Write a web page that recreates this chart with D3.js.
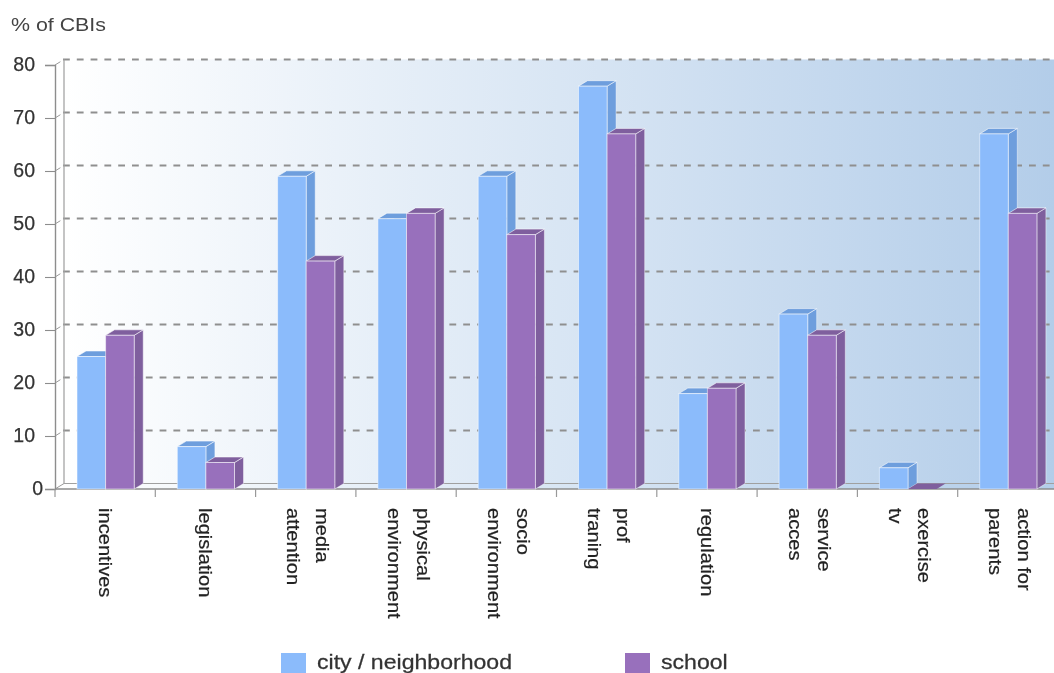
<!DOCTYPE html>
<html><head><meta charset="utf-8">
<script src="https://cdn.jsdelivr.net/npm/d3@7"></script>
<style>html,body{margin:0;padding:0;background:#fff;overflow:hidden}svg{display:block;filter:blur(.6px)}text{font-family:"Liberation Sans",Arial,sans-serif}</style>
</head><body><svg id="c" width="1054" height="673"></svg>
<script>
const categories=[["incentives"],["legislation"],["media","attention"],["physical","environment"],["socio","environment"],["prof","traning"],["regulation"],["service","acces"],["exercise","tv"],["action for","parents"]];
const cityValues=[25,8,59,51,59,76,18,33,4,67];
const schoolValues=[29,5,43,52,48,67,19,29,0,52];
const yTicks=[0,10,20,30,40,50,60,70,80];
const seriesNames=["city / neighborhood","school"];

const W=1054,H=673,dx=9,dy=5.5;
const svg=d3.select("#c");
const x=d3.scaleBand().domain(d3.range(categories.length)).range([55,1058]);
const y=d3.scaleLinear().domain([0,80]).range([489,65]);
const bw=28.6,pad=22;

const defs=svg.append("defs");
const g=defs.append("linearGradient").attr("id","wall");
g.append("stop").attr("offset","0").attr("stop-color","#ffffff");
g.append("stop").attr("offset","1").attr("stop-color","#b3cde9");

svg.append("rect").attr("x",55+dx).attr("y",y(80)-dy).attr("width",W-55-dx).attr("height",y(0)-y(80)).attr("fill","url(#wall)");
svg.append("path").attr("d",`M55,${y(0)}L${55+dx},${y(0)-dy}H${W}V${y(0)}Z`).attr("fill","url(#wall)");

svg.append("g").selectAll("line").data(yTicks.filter(d=>d>0)).join("line")
 .attr("x1",63).attr("x2",W).attr("y1",d=>y(d)-dy).attr("y2",d=>y(d)-dy)
 .attr("stroke","#8f8f8f").attr("stroke-width",1.9).attr("stroke-dasharray","6.8 7");
svg.append("line").attr("x1",55+dx).attr("x2",W).attr("y1",y(0)-dy).attr("y2",y(0)-dy).attr("stroke","#a0a0a0").attr("stroke-width",1.2);
svg.append("line").attr("x1",55+dx).attr("x2",55+dx).attr("y1",y(80)-dy).attr("y2",y(0)-dy).attr("stroke","#a5a5a5").attr("stroke-width",1.3);
svg.append("g").selectAll("line").data(yTicks).join("line")
 .attr("x1",55).attr("x2",d=>d===0?55+dx:55+dx*.6).attr("y1",d=>y(d)).attr("y2",d=>d===0?y(d)-dy:y(d)-dy*.6).attr("stroke","#999").attr("stroke-width",1);

const ay=svg.append("g").attr("transform","translate(55,0)").call(d3.axisLeft(y).tickValues(yTicks).tickSize(10).tickPadding(10));
ay.select(".domain").attr("stroke","#8d8d8d").attr("stroke-width",1.4);
ay.selectAll(".tick line").attr("stroke","#8d8d8d").attr("stroke-width",1.1);
ay.selectAll(".tick text").attr("font-size",19.5).attr("font-family",'"Liberation Sans",Arial,sans-serif').attr("fill","#333").attr("stroke","#333").attr("stroke-width",.25).attr("dy","0.27em").attr("dx",d=>d===0?8:0);

const ax=svg.append("g").attr("transform",`translate(0,${y(0)})`);
ax.append("line").attr("x1",55).attr("x2",W).attr("stroke","#8d8d8d").attr("stroke-width",1.3);
ax.selectAll(".t").data(d3.range(categories.length+1)).join("line").attr("class","t")
 .attr("x1",d=>d<categories.length?x(d):1058).attr("x2",d=>d<categories.length?x(d):1058).attr("y1",0).attr("y2",8).attr("stroke","#999").attr("stroke-width",1.2);

function bar(parent,xl,v,front,side,top){
  const t=y(v),b=y(0),o=parent.append("g");
  if(v===0){
    o.append("path").attr("d",`M${xl},${b}L${xl+dx},${b-dy}H${xl+bw+dx}L${xl+bw},${b}Z`).attr("fill",top);
    return;
  }
  o.append("path").attr("d",`M${xl+bw},${b}V${t}L${xl+bw+dx},${t-dy}V${b-dy}Z`).attr("fill",side).attr("stroke","#ffffff").attr("stroke-opacity",.45).attr("stroke-width",1);
  o.append("path").attr("d",`M${xl},${t}L${xl+dx},${t-dy}H${xl+bw+dx}L${xl+bw},${t}Z`).attr("fill",top).attr("stroke","#ffffff").attr("stroke-opacity",.55).attr("stroke-width",1);
  o.append("rect").attr("x",xl).attr("y",t).attr("width",bw).attr("height",b-t).attr("fill",front).attr("stroke","#ffffff").attr("stroke-opacity",.5).attr("stroke-width",1);
}
const bars=svg.append("g");
categories.forEach((c,i)=>{
  const xl=x(i)+pad;
  bar(bars,xl,cityValues[i],"#8bbbfb","#6e9edd","#6e9edd");
  bar(bars,xl+bw,schoolValues[i],"#9870bc","#7f5f9e","#7f5f9e");
});

const lab=svg.append("g");
categories.forEach((c,i)=>{
  const cx=x(i)+pad+bw;
  c.forEach((s,j)=>{
    const off=c.length===1?0:(j===0?16.5:-12.5);
    lab.append("text").attr("transform",`translate(${cx+off},508) rotate(90) scale(1.1,1)`).attr("dy","0.35em")
      .attr("font-size",18.3).attr("fill","#222").attr("stroke","#222").attr("stroke-width",.2).text(s);
  });
});

svg.append("text").attr("transform","translate(11,31) scale(1.2,1)").attr("font-size",17.8).attr("fill","#444").text("% of CBIs");
const leg=svg.append("g");
[[281,317,"#8bbbfb"],[625,661,"#9870bc"]].forEach((d,i)=>{
  leg.append("rect").attr("x",d[0]).attr("y",653).attr("width",25).attr("height",20).attr("fill",d[2]);
  leg.append("text").attr("transform",`translate(${d[1]},669) scale(1.16,1)`).attr("font-size",19.9).attr("fill","#333").attr("stroke","#333").attr("stroke-width",.25).text(seriesNames[i]);
});
</script></body></html>
